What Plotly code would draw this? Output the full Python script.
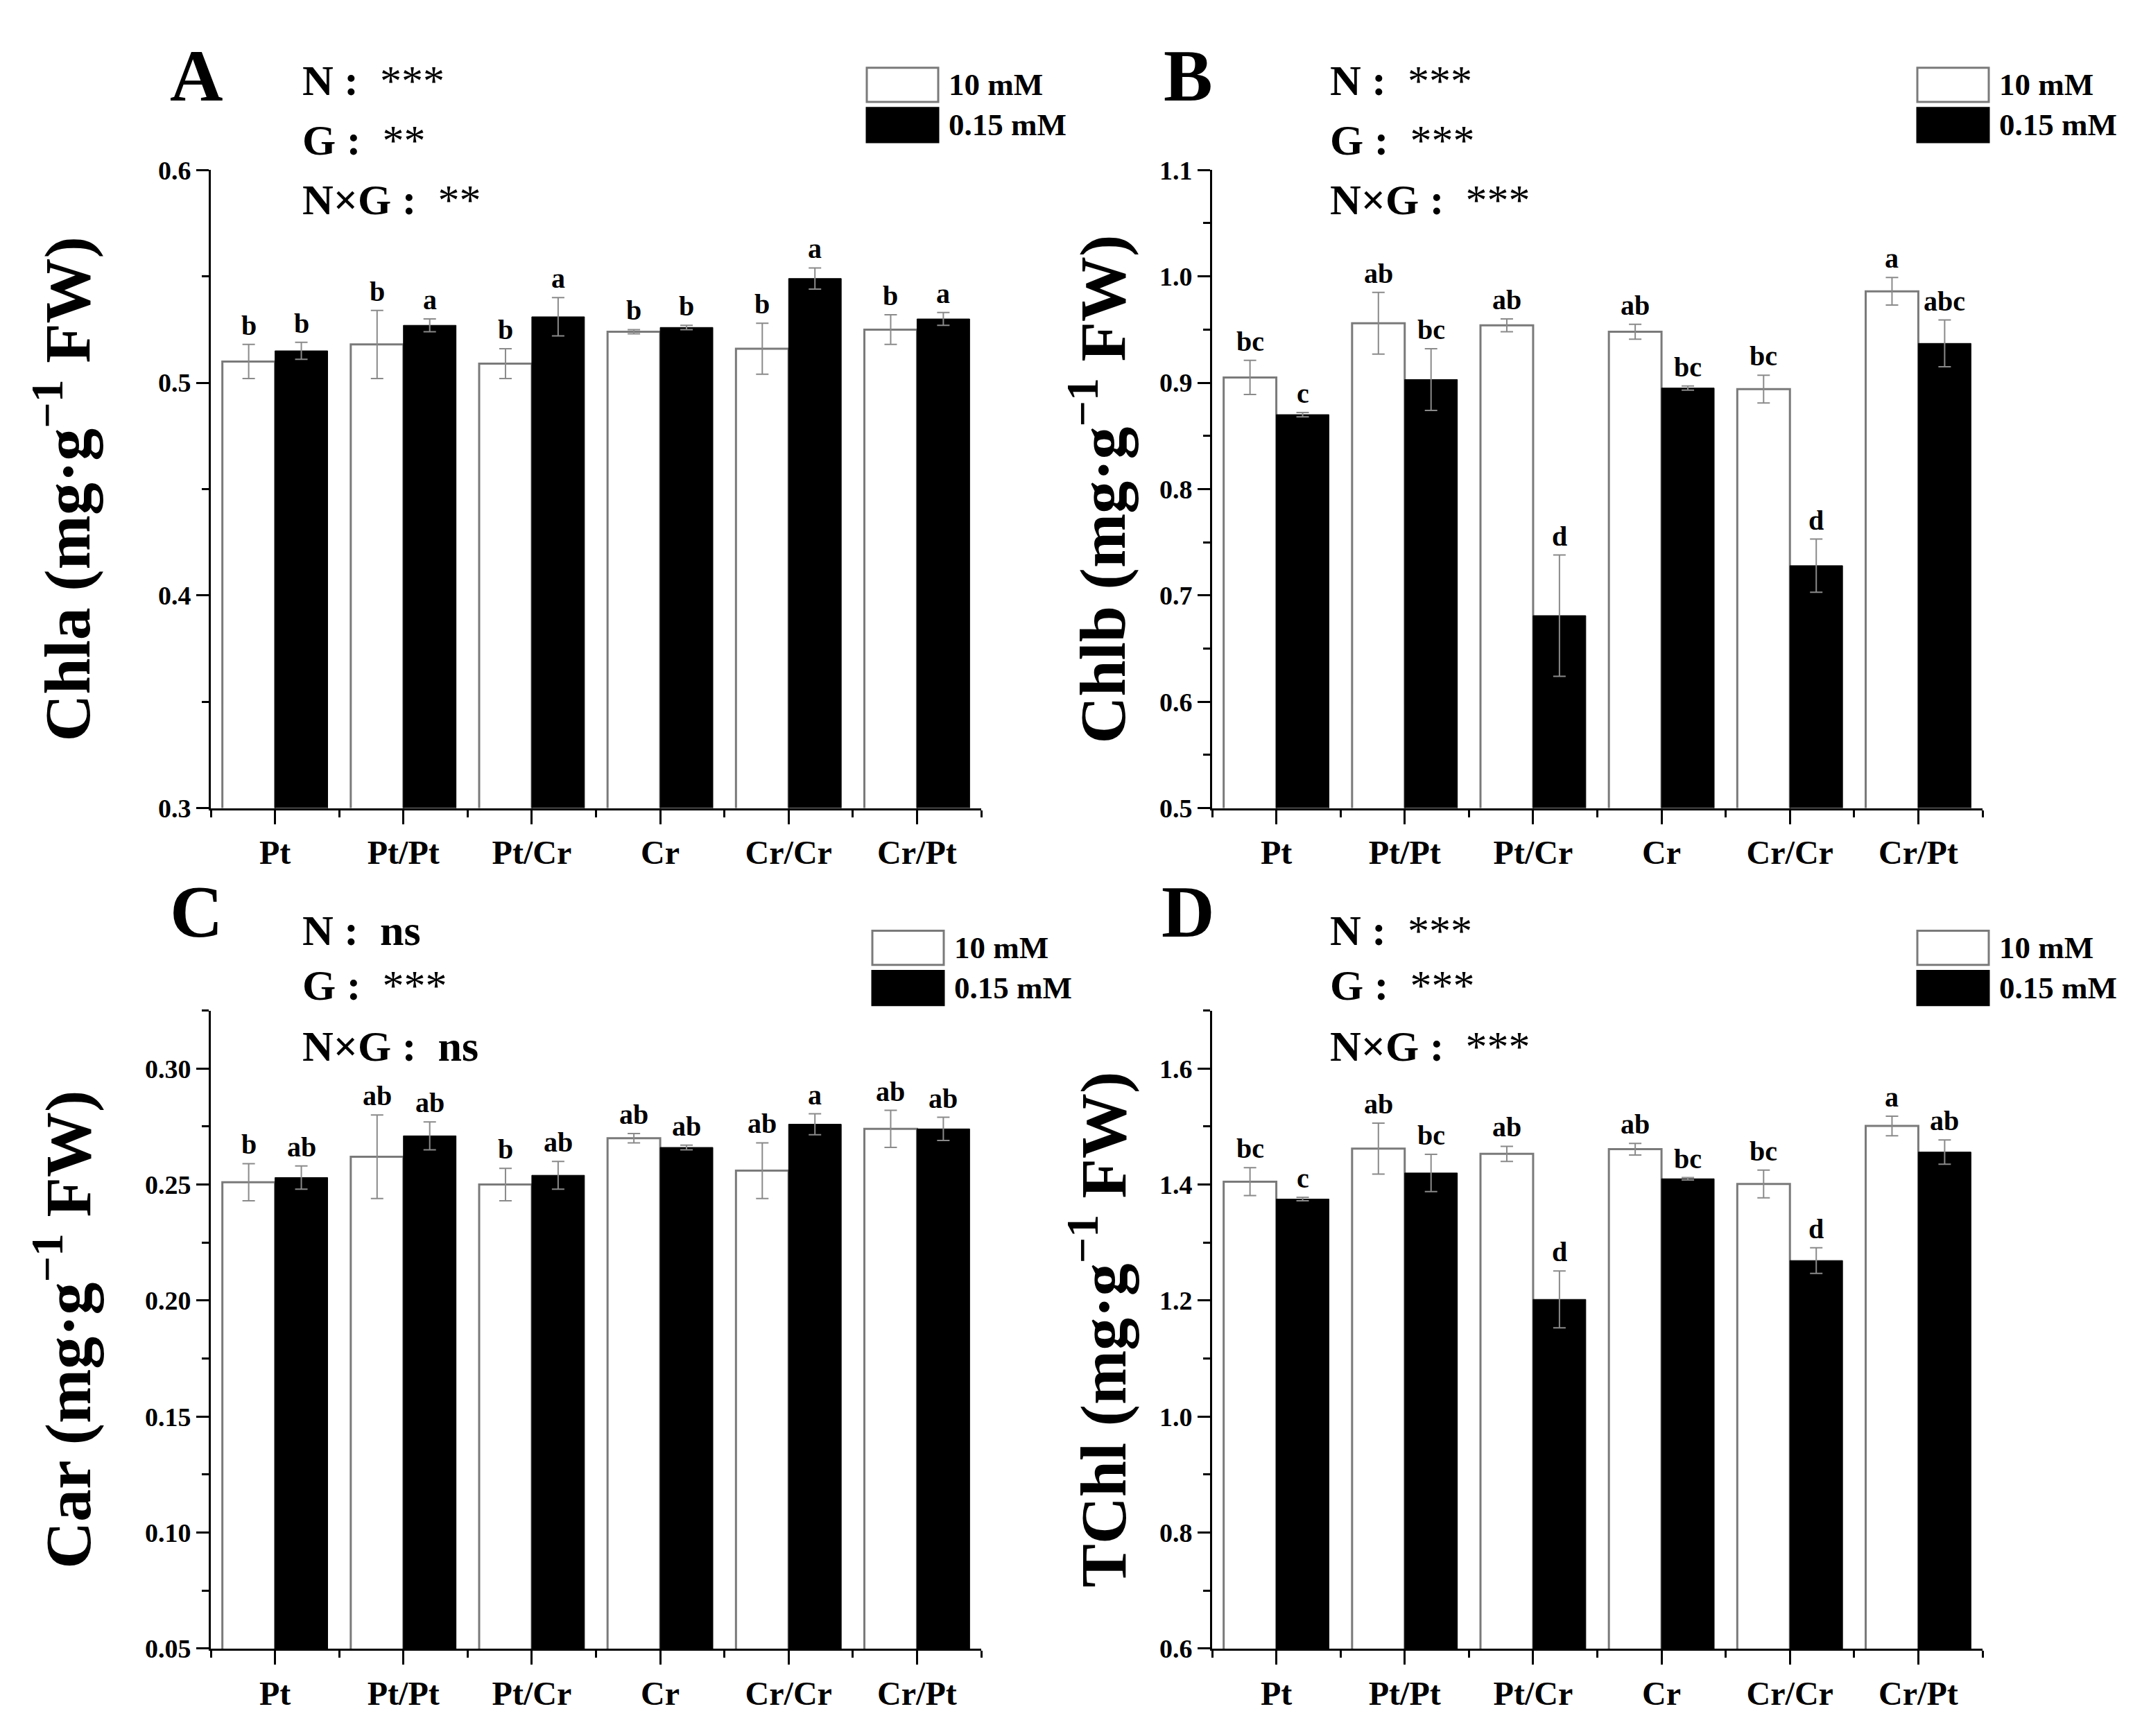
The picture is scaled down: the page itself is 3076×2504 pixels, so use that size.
import plotly.graph_objects as go

# genotypes (grafting combinations)
groups = ["Pt", "Pt/Pt", "Pt/Cr", "Cr", "Cr/Cr", "Cr/Pt"]
series_names = ["10 mM", "0.15 mM"]

# Chla
chla_high = [0.510, 0.518, 0.509, 0.524, 0.516, 0.525]
chla_high_err = [0.008, 0.016, 0.007, 0.001, 0.012, 0.007]
chla_low = [0.515, 0.527, 0.531, 0.526, 0.549, 0.530]
chla_low_err = [0.004, 0.003, 0.009, 0.001, 0.005, 0.003]
chla_high_lbl = ["b", "b", "b", "b", "b", "b"]
chla_low_lbl = ["b", "a", "a", "b", "a", "a"]

# Chlb
chlb_high = [0.905, 0.956, 0.954, 0.948, 0.894, 0.986]
chlb_high_err = [0.016, 0.029, 0.006, 0.007, 0.013, 0.013]
chlb_low = [0.870, 0.903, 0.681, 0.895, 0.728, 0.937]
chlb_low_err = [0.002, 0.029, 0.057, 0.002, 0.025, 0.022]
chlb_high_lbl = ["bc", "ab", "ab", "ab", "bc", "a"]
chlb_low_lbl = ["c", "bc", "d", "bc", "d", "abc"]

# Car
car_high = [0.251, 0.262, 0.250, 0.270, 0.256, 0.274]
car_high_err = [0.008, 0.018, 0.007, 0.002, 0.012, 0.008]
car_low = [0.253, 0.271, 0.254, 0.266, 0.276, 0.274]
car_low_err = [0.005, 0.006, 0.006, 0.001, 0.0045, 0.005]
car_high_lbl = ["b", "ab", "b", "ab", "ab", "ab"]
car_low_lbl = ["ab", "ab", "ab", "ab", "a", "ab"]

# TChl
tchl_high = [1.405, 1.462, 1.453, 1.461, 1.401, 1.501]
tchl_high_err = [0.024, 0.044, 0.013, 0.010, 0.024, 0.017]
tchl_low = [1.375, 1.420, 1.202, 1.410, 1.269, 1.456]
tchl_low_err = [0.003, 0.032, 0.049, 0.002, 0.022, 0.021]
tchl_high_lbl = ["bc", "ab", "ab", "ab", "bc", "a"]
tchl_low_lbl = ["c", "bc", "d", "bc", "d", "ab"]

# two-way ANOVA significance (N, G, NxG)
sig_chla = ["***", "**", "**"]
sig_chlb = ["***", "***", "***"]
sig_car = ["ns", "***", "ns"]
sig_tchl = ["***", "***", "***"]

W, H = 3076, 2504
FONT = "Liberation Serif"
BW = 0.41


def px(x):
    return x / W


def py(y):
    return 1 - y / H


panels = [
    dict(letter="A", title="Chla", high=chla_high, high_err=chla_high_err, low=chla_low,
         low_err=chla_low_err, hl=chla_high_lbl, ll=chla_low_lbl, sig=sig_chla,
         xpix=(296, 1407), ypix=(220, 1156), yr=(0.3, 0.6), tick0=0.3, dtick=0.1, fmt=".1f",
         letter_pos=(275, 82), stat_x=426, stat_y=(88, 176, 263), leg=(1242, 70), title_x=82),
    dict(letter="B", title="Chlb", high=chlb_high, high_err=chlb_high_err, low=chlb_low,
         low_err=chlb_low_err, hl=chlb_high_lbl, ll=chlb_low_lbl, sig=sig_chlb,
         xpix=(1740, 2851), ypix=(220, 1156), yr=(0.5, 1.1), tick0=0.5, dtick=0.1, fmt=".1f",
         letter_pos=(1705, 82), stat_x=1908, stat_y=(88, 176, 263), leg=(2757, 70), title_x=1575),
    dict(letter="C", title="Car", high=car_high, high_err=car_high_err, low=car_low,
         low_err=car_low_err, hl=car_high_lbl, ll=car_low_lbl, sig=sig_car,
         xpix=(296, 1407), ypix=(1453, 2389), yr=(0.05, 0.325), tick0=0.05, dtick=0.05, fmt=".2f",
         letter_pos=(275, 1308), stat_x=426, stat_y=(1335, 1416, 1505), leg=(1250, 1336), title_x=82),
    dict(letter="D", title="TChl", high=tchl_high, high_err=tchl_high_err, low=tchl_low,
         low_err=tchl_low_err, hl=tchl_high_lbl, ll=tchl_low_lbl, sig=sig_tchl,
         xpix=(1740, 2851), ypix=(1453, 2389), yr=(0.6, 1.7), tick0=0.6, dtick=0.2, fmt=".1f",
         letter_pos=(1705, 1308), stat_x=1908, stat_y=(1335, 1416, 1505), leg=(2757, 1336), title_x=1575),
]

fig = go.Figure()
annotations = []
shapes = []
xs = list(range(len(groups)))

for k, p in enumerate(panels):
    sfx = "" if k == 0 else str(k + 1)
    xa, ya = "x" + sfx, "y" + sfx

    fig.add_trace(go.Bar(
        x=xs, y=p["high"], width=BW, offset=-BW, xaxis=xa, yaxis=ya,
        marker=dict(color="white", line=dict(color="#7a7a7a", width=3)),
        error_y=dict(type="data", array=p["high_err"], color="#8a8a8a", thickness=2, width=9),
        name=series_names[0], showlegend=False))
    fig.add_trace(go.Bar(
        x=xs, y=p["low"], width=BW, offset=0, xaxis=xa, yaxis=ya,
        marker=dict(color="black", line=dict(color="black", width=1)),
        error_y=dict(type="data", array=p["low_err"], color="#8a8a8a", thickness=2, width=9),
        name=series_names[1], showlegend=False))

    x0, x1 = p["xpix"]
    y0, y1 = p["ypix"]
    fig.layout["xaxis" + sfx] = dict(
        domain=[px(x0), px(x1)], anchor=ya, range=[-0.5, 5.5],
        tickmode="array", tickvals=xs, ticktext=groups,
        ticks="outside", ticklen=20, tickwidth=3, tickcolor="black",
        minor=dict(tickmode="array", tickvals=[i + 0.5 for i in range(-1, 6)],
                   ticks="outside", ticklen=10, tickwidth=3, tickcolor="black"),
        showline=True, linecolor="black", linewidth=3, showgrid=False, zeroline=False,
        tickfont=dict(family=FONT, size=48, color="black", weight="bold"))
    fig.layout["yaxis" + sfx] = dict(
        domain=[py(y1), py(y0)], anchor=xa, range=list(p["yr"]),
        tick0=p["tick0"], dtick=p["dtick"], tickformat=p["fmt"],
        ticks="outside", ticklen=18, tickwidth=3, tickcolor="black",
        minor=dict(tick0=p["tick0"], dtick=p["dtick"] / 2, ticks="outside",
                   ticklen=10, tickwidth=3, tickcolor="black"),
        showline=True, linecolor="black", linewidth=3, showgrid=False, zeroline=False,
        tickfont=dict(family=FONT, size=38, color="black", weight="bold"))

    # significance letters above error bars
    for i in xs:
        annotations.append(dict(
            x=i - BW / 2, y=p["high"][i] + p["high_err"][i], xref=xa, yref=ya,
            text="<b>%s</b>" % p["hl"][i], showarrow=False, yanchor="bottom", yshift=3,
            font=dict(family=FONT, size=40, color="black")))
        annotations.append(dict(
            x=i + BW / 2, y=p["low"][i] + p["low_err"][i], xref=xa, yref=ya,
            text="<b>%s</b>" % p["ll"][i], showarrow=False, yanchor="bottom", yshift=3,
            font=dict(family=FONT, size=40, color="black")))

    # y-axis title
    annotations.append(dict(
        x=px(p["title_x"]), y=py((y0 + y1) / 2), xref="paper", yref="paper",
        text="<b>%s (mg·g<sup>−1</sup> FW)</b>" % p["title"], textangle=-90,
        showarrow=False, xanchor="center", yanchor="middle",
        font=dict(family=FONT, size=94, color="black")))

    # panel letter
    annotations.append(dict(
        x=px(p["letter_pos"][0]), y=py(p["letter_pos"][1]), xref="paper", yref="paper",
        text="<b>%s</b>" % p["letter"], showarrow=False, xanchor="center", yanchor="middle",
        font=dict(family=FONT, size=106, color="black")))

    # ANOVA lines
    for lab, s, yy in zip(["N", "G", "N×G"], p["sig"], p["stat_y"]):
        s_txt = "<b>%s</b>" % s if s == "ns" else s
        annotations.append(dict(
            x=px(p["stat_x"]), y=py(yy), xref="paper", yref="paper",
            text="<b>%s : </b> %s" % (lab, s_txt), showarrow=False,
            xanchor="left", yanchor="middle",
            font=dict(family=FONT, size=62, color="black")))

    # legend boxes
    lx, ly = p["leg"]
    for j, (fill, lc) in enumerate([("white", "#7a7a7a"), ("black", "black")]):
        top = ly + j * 59
        shapes.append(dict(type="rect", xref="paper", yref="paper",
                           x0=px(lx), x1=px(lx + 103), y0=py(top + 50), y1=py(top),
                           fillcolor=fill, line=dict(color=lc, width=3)))
        annotations.append(dict(
            x=px(lx + 116), y=py(top + 25), xref="paper", yref="paper",
            text="<b>%s</b>" % series_names[j], showarrow=False,
            xanchor="left", yanchor="middle",
            font=dict(family=FONT, size=45, color="black")))

fig.update_layout(
    width=W, height=H, barmode="overlay",
    margin=dict(l=0, r=0, t=0, b=0),
    paper_bgcolor="white", plot_bgcolor="white",
    annotations=annotations, shapes=shapes,
    font=dict(family=FONT, color="black"),
)

fig.write_html("out.html")
